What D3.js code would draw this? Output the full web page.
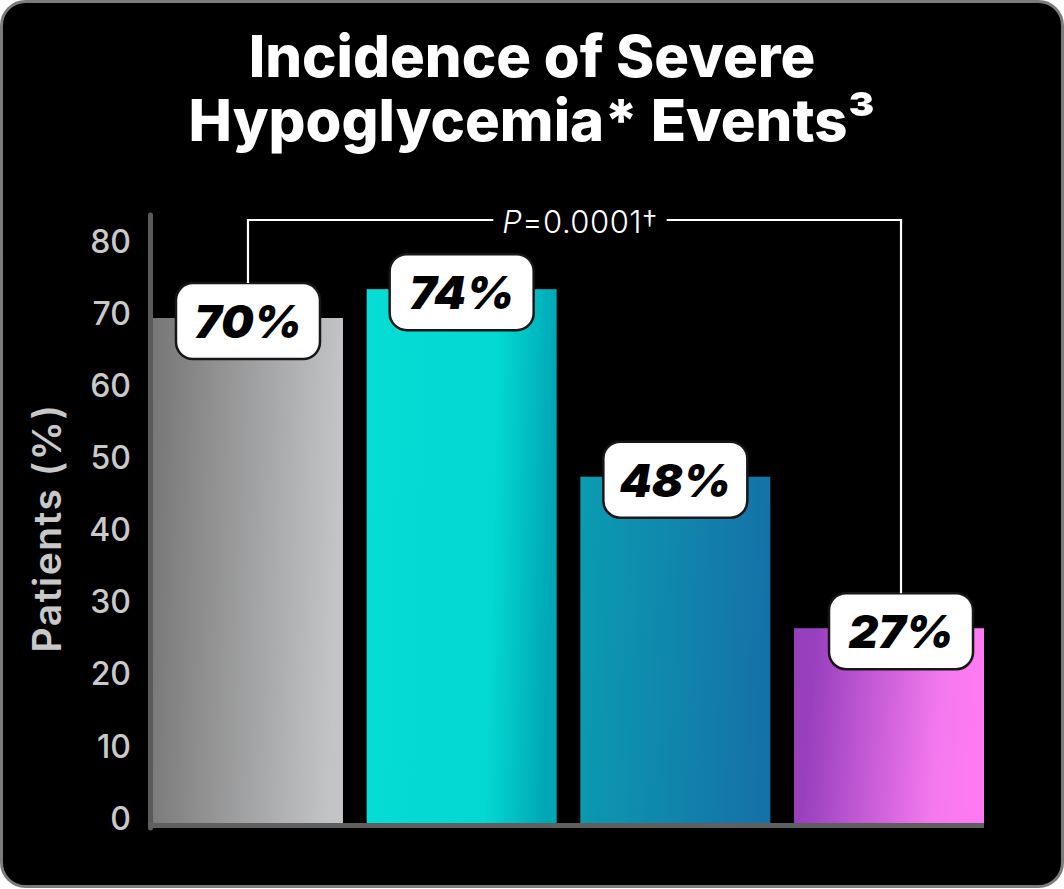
<html>
<head>
<meta charset="utf-8">
<title>Severe Hypoglycemia</title>
<style>
  body { margin: 0; background: #fff; }
  svg { display: block; }
</style>
</head>
<body>
<div id="chart-area"></div>
<script src="https://d3js.org/d3.v7.min.js"></script>
<script>

// data
const groups = ["Group 1", "Group 2", "Group 3", "Group 4"]
const values = [70, 74, 48, 27]
const valueLabels = ["70%", "74%", "48%", "27%"]
const yTicks = [0, 10, 20, 30, 40, 50, 60, 70, 80]
const titleLines = ["Incidence of Severe", "Hypoglycemia* Events\u00b3"]
const pLabel = ["P", "=0.0001\u2020"]

const W = 1064, H = 889
const PLOT = { LEFT: 153, RIGHT: 984, BOTTOM: 823 }
const LAST_LABEL_NUDGE = 12

const gradients = [
    [["0%", "#767676"], ["100%", "#c3c4c6"]],
    [["0%", "#06ddd5"], ["70%", "#03d8d2"], ["100%", "#00a8b6"]],
    [["0%", "#0a9cb1"], ["100%", "#1572a8"]],
    [["0%", "#963fbe"], ["12%", "#9a40bf"], ["80%", "#f479ee"], ["100%", "#ff7af2"]]
]

const svg = d3.select("#chart-area")
    .append("svg")
        .attr("width", W)
        .attr("height", H)

const defs = svg.append("defs")
gradients.forEach((stops, i) => {
    const lg = defs.append("linearGradient")
        .attr("id", "grad" + i)
        .attr("x1", "0%").attr("y1", "0%")
        .attr("x2", "100%").attr("y2", "8%")
    stops.forEach(s => lg.append("stop").attr("offset", s[0]).attr("stop-color", s[1]))
})

// card
svg.append("rect")
    .attr("x", 1.5).attr("y", 1.5)
    .attr("width", W - 3).attr("height", H - 4)
    .attr("rx", 24)
    .attr("fill", "#000")
    .attr("stroke", "#7c7c7c")
    .attr("stroke-width", 3)

// title
const title = svg.append("text")
    .attr("text-anchor", "middle")
    .attr("fill", "#fff")
    .attr("font-family", "Inter, 'Open Sans', sans-serif")
    .attr("font-weight", 800)
    .attr("font-size", "58px")
titleLines.forEach((t, i) => {
    title.append("tspan")
        .attr("x", 532)
        .attr("y", 77 + i * 64)
        .text(t)
})

// scales
const x = d3.scaleBand()
    .domain(groups)
    .range([PLOT.LEFT, PLOT.RIGHT])
    .paddingInner(0.111)
    .paddingOuter(0)

const y = d3.scaleLinear()
    .domain([0, 80])
    .range([PLOT.BOTTOM, PLOT.BOTTOM - 80 * 7.214])

// y axis label
svg.append("text")
    .attr("transform", `translate(61, ${528}) rotate(-90)`)
    .attr("text-anchor", "middle")
    .attr("fill", "#c8c8c8")
    .attr("font-family", "Inter, 'Open Sans', sans-serif")
    .attr("font-weight", 600)
    .attr("font-size", "39px")
    .attr("letter-spacing", "1.5px")
    .text("Patients (%)")

// y ticks
const yAxis = d3.axisLeft(y)
    .tickValues(yTicks)
    .tickSize(0)
    .tickPadding(0)

svg.append("g")
    .attr("transform", `translate(131, -4)`)
    .call(yAxis)
    .call(g => g.select(".domain").remove())
    .selectAll("text")
        .attr("fill", "#c9c9c9")
        .attr("font-family", "Inter, 'Open Sans', sans-serif")
        .attr("font-weight", 500)
        .attr("font-size", "32px")

// bars
svg.selectAll("rect.bar")
    .data(values)
    .enter()
    .append("rect")
        .attr("class", "bar")
        .attr("x", (d, i) => x(groups[i]))
        .attr("y", d => y(d))
        .attr("width", x.bandwidth())
        .attr("height", d => y(0) - y(d))
        .attr("fill", (d, i) => `url(#grad${i})`)

// axis lines
svg.append("line")
    .attr("x1", 150.5).attr("x2", 150.5)
    .attr("y1", 215).attr("y2", 828)
    .attr("stroke", "#5a5a5a")
    .attr("stroke-width", 5)
    .attr("stroke-linecap", "round")
svg.append("line")
    .attr("x1", 148).attr("x2", PLOT.RIGHT)
    .attr("y1", 825.5).attr("y2", 825.5)
    .attr("stroke", "#5f5f5f")
    .attr("stroke-width", 5)

// value label boxes
const BOX_W = 144, BOX_H = 76
const labelX = i => x(groups[i]) + x.bandwidth() / 2 + (i === groups.length - 1 ? LAST_LABEL_NUDGE : 0)

const labels = svg.selectAll("g.lbl")
    .data(values)
    .enter()
    .append("g")
        .attr("class", "lbl")
        .attr("transform", (d, i) => `translate(${labelX(i)}, ${y(d) + 3})`)

labels.append("rect")
    .attr("x", -BOX_W / 2)
    .attr("y", -BOX_H / 2)
    .attr("width", BOX_W)
    .attr("height", BOX_H)
    .attr("rx", 17)
    .attr("fill", "#fff")
    .attr("stroke", "#161616")
    .attr("stroke-width", 2.5)

labels.append("text")
    .attr("text-anchor", "middle")
    .attr("y", 17)
    .attr("fill", "#000")
    .attr("font-family", "Inter, 'Open Sans', sans-serif")
    .attr("font-weight", 900)
    .attr("font-style", "italic")
    .attr("font-size", "46px")
    .text((d, i) => valueLabels[i])

// significance bracket
const bx1 = labelX(0), bx2 = labelX(3)
const bTop = 220
const pText = svg.append("text")
    .attr("x", 580)
    .attr("y", 233)
    .attr("text-anchor", "middle")
    .attr("fill", "#fff")
    .attr("font-family", "Inter, 'Open Sans', sans-serif")
    .attr("font-weight", 300)
    .attr("font-size", "31px")
    .attr("letter-spacing", "0.5px")
pText.append("tspan").attr("font-style", "italic").text(pLabel[0])
pText.append("tspan").text(pLabel[1])

const tb = pText.node().getBBox()
const path = d3.path()
path.moveTo(bx1, y(values[0]) + 3 - BOX_H / 2)
path.lineTo(bx1, bTop)
path.lineTo(tb.x - 9, bTop)
path.moveTo(tb.x + tb.width + 9, bTop)
path.lineTo(bx2, bTop)
path.lineTo(bx2, y(values[3]) + 3 - BOX_H / 2)

svg.append("path")
    .attr("d", path.toString())
    .attr("fill", "none")
    .attr("stroke", "#fff")
    .attr("stroke-width", 2.2)

</script>
</body>
</html>
